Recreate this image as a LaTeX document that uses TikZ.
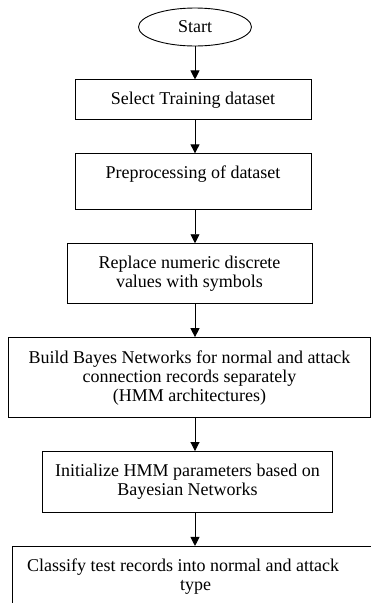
\documentclass[tikz,border=0pt]{standalone}
\usepackage{fontspec}
\setmainfont{Liberation Serif}
\usepackage{tikz}
\usetikzlibrary{shapes.geometric, arrows.meta, positioning}

\begin{document}
\begin{tikzpicture}[
    x=1pt, y=1pt,
    stepbox/.style={rectangle, draw, line width=0.9pt, align=center, inner sep=2pt,
        font=\fontsize{18}{19}\selectfont},
    term/.style={ellipse, draw, line width=0.9pt, minimum width=113pt,
        minimum height=38pt, inner sep=0pt, font=\fontsize{18}{19}\selectfont},
    arr/.style={-{Triangle[length=9pt, width=9pt]}, line width=0.9pt},
    node distance=33pt
]
\useasboundingbox (0,0) rectangle (371,-603);
\node[term] (start) at (195,-27) {Start};
\node[stepbox, below=of start, xshift=-2pt, minimum width=236pt, minimum height=40pt] (select) {Select Training dataset};
\node[stepbox, below=of select, minimum width=236pt, minimum height=56pt, text depth=20pt] (prep) {Preprocessing of dataset};
\node[stepbox, below=of prep, xshift=-3.5pt, minimum width=245pt, minimum height=60pt] (replace) {Replace numeric discrete\\ values with symbols};
\node[stepbox, below=of replace, minimum width=362pt, minimum height=80pt] (build) {Build Bayes Networks for normal and attack\\ connection records separately\\ (HMM architectures)};
\node[stepbox, below=of build, xshift=-2pt, minimum width=290pt, minimum height=61pt] (init) {Initialize HMM parameters based on\\ Bayesian Networks};
\node[stepbox, below=of init, xshift=8pt, minimum width=366pt, minimum height=61pt] (classify) {\hspace*{-25pt}Classify test records into normal and attack\\ type};

\draw[arr] (start) -- (start |- select.north);
\draw[arr] (start |- select.south) -- (start |- prep.north);
\draw[arr] (start |- prep.south) -- (start |- replace.north);
\draw[arr] (start |- replace.south) -- (start |- build.north);
\draw[arr] (start |- build.south) -- (start |- init.north);
\draw[arr] (start |- init.south) -- (start |- classify.north);
\end{tikzpicture}
\end{document}
